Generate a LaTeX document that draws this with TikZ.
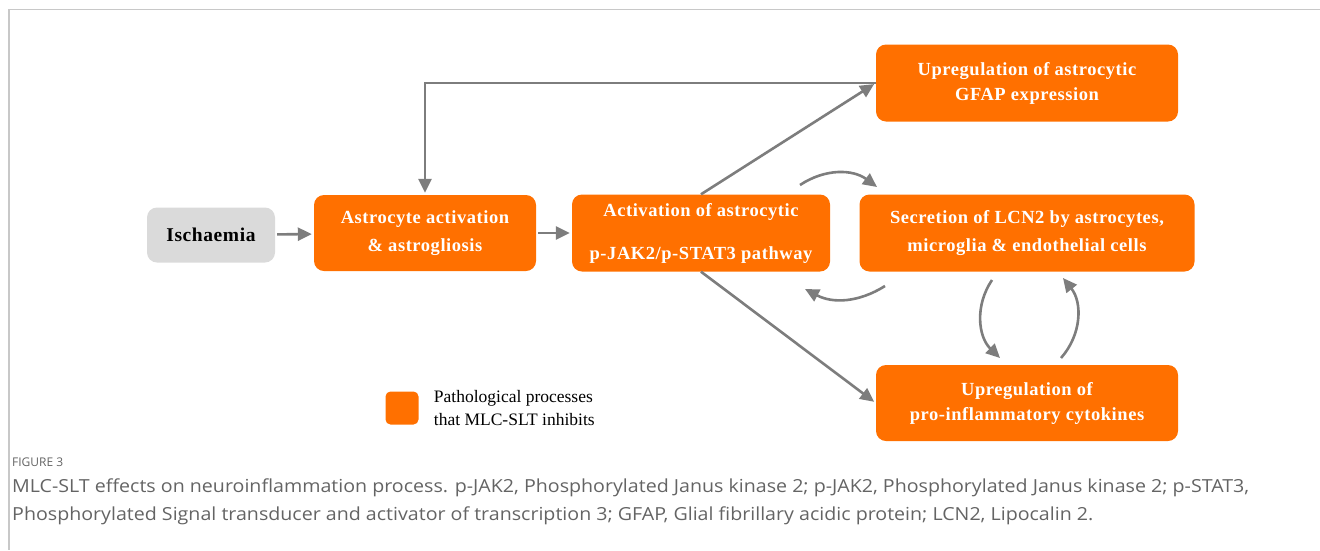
\documentclass[tikz,border=0pt]{standalone}
\usepackage{fontspec}
\usepackage[]{xcolor}
\setmainfont{Liberation Serif}
\newfontfamily\boxfont[LetterSpace=3]{Liberation Serif}
\newfontfamily\capfont[FakeStretch=1.09]{Open Sans}
\newfontfamily\labfont{Open Sans}
\usetikzlibrary{positioning,arrows.meta}
\definecolor{boxorange}{RGB}{255,112,0}
\definecolor{boxgrey}{RGB}{218,218,218}
\definecolor{arrowgrey}{RGB}{125,125,125}
\definecolor{framegrey}{RGB}{200,200,200}
\definecolor{capgrey}{RGB}{100,100,100}
\tikzset{mynode/.style={fill=boxorange,rounded corners=10pt,text=white,align=center,
    font=\boxfont\bfseries\fontsize{18.5}{28}\selectfont,inner sep=0pt},
  startnode/.style={mynode,fill=boxgrey,text=black,font=\boxfont\bfseries\fontsize{19.5}{24}\selectfont},
  arr/.style={draw=arrowgrey,line width=2.6pt,-{Triangle[length=14pt,width=13pt]},shorten <=2pt,shorten >=2pt},
  curvearr/.style={arr,shorten <=0pt,shorten >=0pt}
}

\begin{document}
\begin{tikzpicture}[x=1pt,y=1pt]
  \useasboundingbox (0,0) rectangle (1320,-550);
  \draw[framegrey,line width=1.5pt] (1320,-9.5) -- (9,-9.5) -- (9,-550);

  % Main chain
    \node[startnode,minimum width=128pt,minimum height=55pt] (isch) at (211,-235) {Ischaemia};
    \node[mynode,minimum width=222pt,minimum height=76pt] (astro) at (425,-233) {Astrocyte activation\\\& astrogliosis};
    \node[mynode,minimum width=258pt,minimum height=77pt] (path) at (701,-233) {Activation of astrocytic\\[15pt]p-JAK2/p-STAT3 pathway};
    \node[mynode,minimum width=335pt,minimum height=77pt] (lcn) at (1027,-233) {Secretion of LCN2 by astrocytes,\\microglia \& endothelial cells};

    % Outcomes
    \node[mynode,minimum width=302pt,minimum height=77pt,font=\boxfont\bfseries\fontsize{18.5}{25}\selectfont] (gfap) at (1027,-83) {Upregulation of astrocytic\\GFAP expression};
    \node[mynode,minimum width=302pt,minimum height=76pt,font=\boxfont\bfseries\fontsize{18.5}{25}\selectfont] (cyto) at (1027,-403) {Upregulation of\\pro-inflammatory cytokines};

    % Legend
    \node[fill=boxorange,rounded corners=5pt,minimum size=33pt,inner sep=0pt] (leg) at (402,-408) {};
    \node[right=15pt of leg,align=left,inner sep=0pt,font=\fontsize{17.5}{23}\selectfont] (legtext) {Pathological processes\\that MLC-SLT inhibits};

    % Straight arrows
    \draw[arr] (isch) -- (astro);
    \draw[arr] (astro) -- (path);
    \draw[arr,shorten <=0pt] (path.north) -- (gfap.west);
    \draw[arr,shorten <=0pt] (gfap.west) -| (astro.north);
    \draw[arr,shorten <=0pt] (path.south) -- (cyto.west);

    % Feedback loops
    \coordinate (c1s) at (800,-185);
    \coordinate (c1e) at (877,-187);
    \coordinate (c2s) at (885,-286);
    \coordinate (c2e) at (805,-289);
    \coordinate (c3s) at (992,-280);
    \coordinate (c3e) at (1000,-358);
    \coordinate (c4s) at (1061,-358);
    \coordinate (c4e) at (1063,-278);
    \draw[curvearr] (c1s) to[bend left=35] (c1e);
    \draw[curvearr] (c2s) to[bend left=30] (c2e);
    \draw[curvearr] (c3s) to[bend right=40] (c3e);
    \draw[curvearr] (c4s) to[bend right=40] (c4e);

    % Caption
    \node[anchor=west,inner sep=0pt,text=capgrey,font=\labfont\fontsize{12}{14}\selectfont] (figlabel) at (12,-462) {FIGURE 3};
    \node[anchor=north west,inner sep=0pt,align=left,text=capgrey,font=\capfont\fontsize{18}{28}\selectfont] (caption) at (12,-479) {MLC-SLT effects on neuroinflammation process. p-JAK2, Phosphorylated Janus kinase 2; p-JAK2, Phosphorylated Janus kinase 2; p-STAT3,\\Phosphorylated Signal transducer and activator of transcription 3; GFAP, Glial fibrillary acidic protein; LCN2, Lipocalin 2.};

  \end{tikzpicture}
\end{document}
